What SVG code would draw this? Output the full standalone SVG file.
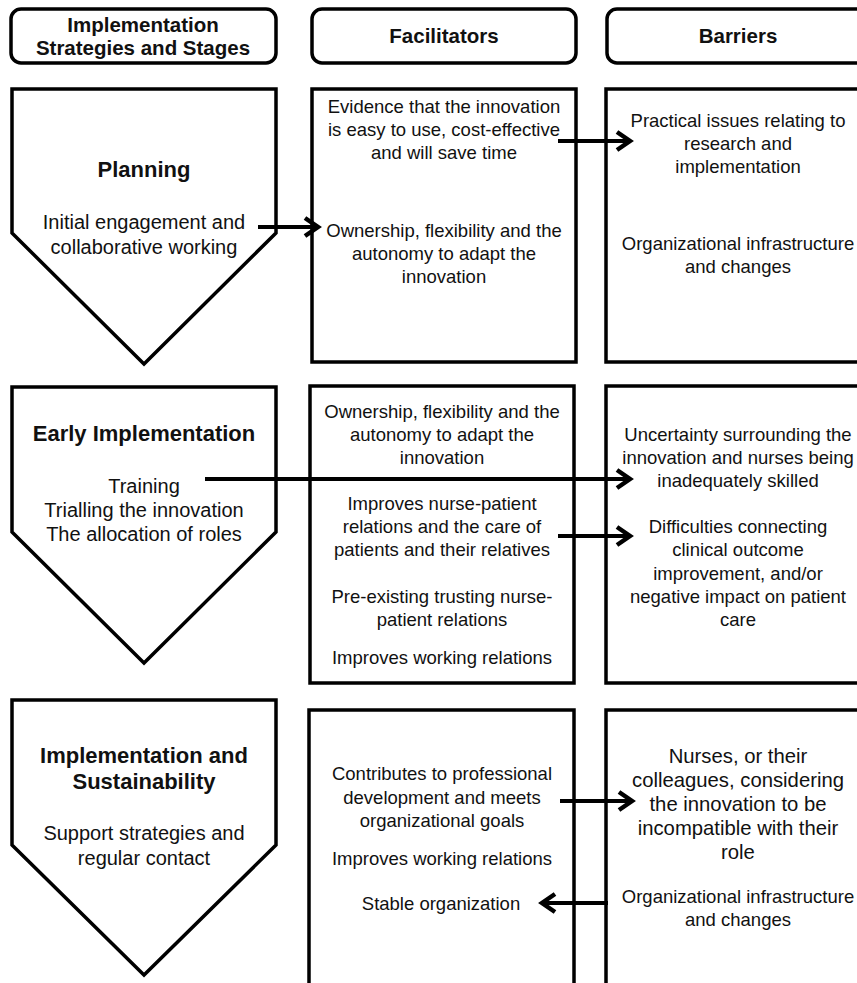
<svg xmlns="http://www.w3.org/2000/svg" width="857" height="983" viewBox="0 0 857 983">
<defs>
<style>
.box{fill:#fff;stroke:#000;stroke-width:3.5}
.hdr{fill:#fff;stroke:#000;stroke-width:3.5}
.t{font-family:"Liberation Sans",Arial,sans-serif;font-size:18.5px;fill:#111;text-anchor:middle}
.p{font-size:20px}
.b{font-family:"Liberation Sans",Arial,sans-serif;font-size:22px;font-weight:bold;fill:#111;text-anchor:middle}
.h{font-family:"Liberation Sans",Arial,sans-serif;font-size:20.5px;font-weight:bold;fill:#111;text-anchor:middle}
.big{font-size:20.3px}
.c{stroke:#000;stroke-width:4;fill:none}
</style>
<marker id="ah" markerUnits="userSpaceOnUse" markerWidth="24" markerHeight="24" viewBox="-16 -12 20 24" refX="0" refY="0" orient="auto">
<polyline points="-13,-9 0,0 -13,9" fill="none" stroke="#000" stroke-width="4.5"/>
</marker>
</defs>
<g id="header-stages"><rect class="hdr" x="11" y="9" width="265" height="54" rx="10"/><text class="h" x="143" y="32">Implementation</text><text class="h" x="143" y="55">Strategies and Stages</text></g>
<g id="header-facilitators"><rect class="hdr" x="312" y="9" width="264" height="54" rx="10"/><text class="h" x="444" y="43">Facilitators</text></g>
<g id="header-barriers"><rect class="hdr" x="607" y="9" width="264" height="54" rx="10"/><text class="h" x="738" y="43">Barriers</text></g>

<g id="planning"><polygon class="box" points="12,89 276,89 276,233 144,364 12,233"/><text class="b" x="144" y="177">Planning</text><text class="t p" x="144" y="229">Initial engagement and</text><text class="t p" x="144" y="254">collaborative working</text></g>
<g id="fac-planning"><rect class="box" x="312" y="89" width="264" height="273"/>
<text class="t" x="444" y="113">Evidence that the innovation</text><text class="t" x="444" y="136">is easy to use, cost-effective</text><text class="t" x="444" y="159">and will save time</text>
<text class="t" x="444" y="237">Ownership, flexibility and the</text><text class="t" x="444" y="260">autonomy to adapt the</text><text class="t" x="444" y="283">innovation</text></g>
<g id="bar-planning"><rect class="box" x="606" y="89" width="264" height="273"/>
<text class="t" x="738" y="127">Practical issues relating to</text><text class="t" x="738" y="150">research and</text><text class="t" x="738" y="173">implementation</text>
<text class="t" x="738" y="250">Organizational infrastructure</text><text class="t" x="738" y="273">and changes</text></g>

<g id="early"><polygon class="box" points="12,387 276,387 276,532 144,663 12,532"/><text class="b" x="144" y="441">Early Implementation</text><text class="t p" x="144" y="493">Training</text><text class="t p" x="144" y="517">Trialling the innovation</text><text class="t p" x="144" y="541">The allocation of roles</text></g>
<g id="fac-early"><rect class="box" x="310" y="386" width="264" height="297"/>
<text class="t" x="442" y="418">Ownership, flexibility and the</text><text class="t" x="442" y="441">autonomy to adapt the</text><text class="t" x="442" y="464">innovation</text>
<text class="t" x="442" y="510">Improves nurse-patient</text><text class="t" x="442" y="533">relations and the care of</text><text class="t" x="442" y="556">patients and their relatives</text>
<text class="t" x="442" y="603">Pre-existing trusting nurse-</text><text class="t" x="442" y="626">patient relations</text>
<text class="t" x="442" y="664">Improves working relations</text></g>
<g id="bar-early"><rect class="box" x="606" y="386" width="264" height="297"/>
<text class="t" x="738" y="441">Uncertainty surrounding the</text><text class="t" x="738" y="464">innovation and nurses being</text><text class="t" x="738" y="487">inadequately skilled</text>
<text class="t" x="738" y="533">Difficulties connecting</text><text class="t" x="738" y="556">clinical outcome</text><text class="t" x="738" y="580">improvement, and/or</text><text class="t" x="738" y="603">negative impact on patient</text><text class="t" x="738" y="626">care</text></g>

<g id="sustain"><polygon class="box" points="12,700 276,700 276,845 144,975 12,845"/><text class="b" x="144" y="763">Implementation and</text><text class="b" x="144" y="789">Sustainability</text><text class="t p" x="144" y="840">Support strategies and</text><text class="t p" x="144" y="865">regular contact</text></g>
<g id="fac-sustain"><rect class="box" x="309" y="710" width="265" height="290"/>
<text class="t" x="442" y="780">Contributes to professional</text><text class="t" x="442" y="804">development and meets</text><text class="t" x="442" y="827">organizational goals</text>
<text class="t" x="442" y="865">Improves working relations</text>
<text class="t" x="441" y="910">Stable organization</text></g>
<g id="bar-sustain"><rect class="box" x="606" y="710" width="264" height="290"/>
<text class="t big" x="738" y="763">Nurses, or their</text><text class="t big" x="738" y="787">colleagues, considering</text><text class="t big" x="738" y="811">the innovation to be</text><text class="t big" x="738" y="835">incompatible with their</text><text class="t big" x="738" y="859">role</text>
<text class="t" x="738" y="903">Organizational infrastructure</text><text class="t" x="738" y="926">and changes</text></g>

<g id="connectors">
<line class="c" x1="258" y1="227" x2="318" y2="227" marker-end="url(#ah)"/>
<line class="c" x1="558" y1="141" x2="630" y2="141" marker-end="url(#ah)"/>
<line class="c" x1="205" y1="479" x2="630" y2="479" marker-end="url(#ah)"/>
<line class="c" x1="558" y1="536" x2="630" y2="536" marker-end="url(#ah)"/>
<line class="c" x1="560" y1="801" x2="632" y2="801" marker-end="url(#ah)"/>
<line class="c" x1="608" y1="903" x2="542" y2="903" marker-end="url(#ah)"/>
</g>
</svg>
